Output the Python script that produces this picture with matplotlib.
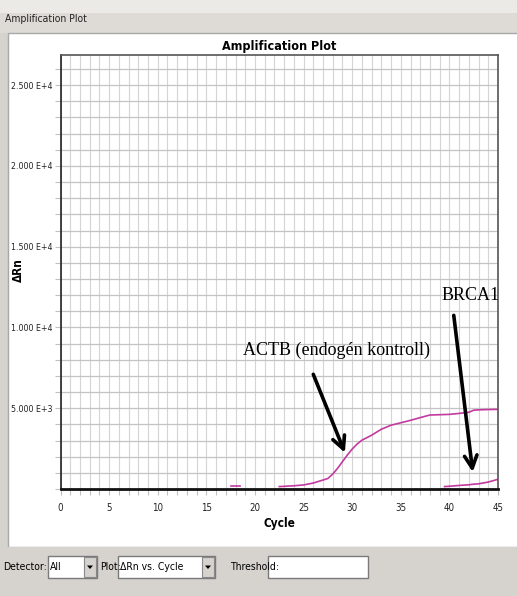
import matplotlib
matplotlib.use("Agg")
import matplotlib.pyplot as plt
from matplotlib import font_manager
from matplotlib.patches import Rectangle, Polygon
import numpy as np

# ---------------- data ----------------
actb_cycle = [22.5, 23, 24, 25, 26, 27, 27.5, 28, 28.5, 29, 29.5, 30, 30.5, 31, 32,
              33, 34, 35, 36, 37, 38, 39, 40, 41, 42, 42.5, 43, 44, 45]
actb_drn = [150, 165, 200, 250, 370, 555, 650, 925, 1280, 1690, 2100, 2470, 2780, 3020, 3330,
            3700, 3950, 4100, 4250, 4420, 4580, 4600, 4620, 4680, 4750, 4880, 4900, 4920, 4930]
brca1_cycle = [39.5, 40, 41, 42, 42.5, 43, 44, 45]
brca1_drn = [150, 170, 220, 260, 300, 320, 430, 600]
stub_cycle = [17.5, 18.5]
stub_drn = [180, 180]

ytick_vals = [5000, 10000, 15000, 20000, 25000]
ytick_labels = ["5.000 E+3", "1.000 E+4", "1.500 E+4", "2.000 E+4", "2.500 E+4"]
xtick_vals = [0, 5, 10, 15, 20, 25, 30, 35, 40, 45]

label_actb = "ACTB (endogén kontroll)"
label_brca1 = "BRCA1"

# ---------------- fonts ----------------
names = {f.name for f in font_manager.fontManager.ttflist}
cond = [f for f in font_manager.fontManager.ttflist
        if f.name == "DejaVu Sans" and f.stretch in ("condensed", "semi-condensed")]
if "Liberation Sans Narrow" in names:
    narrow = dict(family="Liberation Sans Narrow")
elif cond:
    narrow = dict(family="DejaVu Sans", stretch="condensed")
elif "Roboto Condensed" in names:
    narrow = dict(family="Roboto Condensed")
else:
    narrow = dict(family="DejaVu Sans", stretch="condensed")
serif = "Liberation Serif" if "Liberation Serif" in names else "DejaVu Serif"

W, H = 517, 596
fig = plt.figure(figsize=(W / 100, H / 100), dpi=100)
fig.patch.set_facecolor("#d6d3ce")

def px_rect(x0, y0, x1, y1, z=-5, **kw):
    r = Rectangle((x0 / W, 1 - y1 / H), (x1 - x0) / W, (y1 - y0) / H,
                  transform=fig.transFigure, zorder=z, **kw)
    fig.patches.append(r)
    return r

# window chrome
px_rect(0, 0, W, 13, facecolor="#eceae6", edgecolor="none")
px_rect(0, 13, W, 33, facecolor="#dedbd6", edgecolor="none")
fig.text(5 / W, 1 - 19 / H, "Amplification Plot", fontsize=7.5, va="center", ha="left",
         color="#222222", **narrow)
px_rect(8, 33, W + 2, 547, facecolor="white", edgecolor="#a8a8a8", linewidth=1)

# ---------------- axes ----------------
ax_l, ax_r, ax_t, ax_b = 60.5, 498, 54.5, 489
ax = fig.add_axes([ax_l / W, 1 - ax_b / H, (ax_r - ax_l) / W, (ax_b - ax_t) / H])
ax.set_zorder(2)
ax.set_facecolor("white")
ax.set_xlim(0, 45)
ax.set_ylim(0, 26900)

ax.set_xticks(np.arange(0, 46, 1), minor=True)
ax.set_xticks(xtick_vals)
ax.set_yticks(np.arange(0, 26900, 1000), minor=True)
ax.set_yticks(ytick_vals)
ax.set_xticklabels([str(v) for v in xtick_vals], fontsize=7, color="#222222", **narrow)
ax.set_yticklabels(ytick_labels, fontsize=6.3, color="#222222", **narrow)
ax.grid(which="both", axis="x", color="#d4d4d4", linewidth=0.8)
ax.grid(which="both", axis="y", color="#c4c4c4", linewidth=0.9)
ax.set_axisbelow(True)
ax.tick_params(which="both", direction="out", length=4, color="#c0c0c0", width=0.8)
ax.tick_params(axis="x", pad=6)
ax.tick_params(axis="y", pad=2)

for side in ["top", "right"]:
    ax.spines[side].set_color("#555555")
    ax.spines[side].set_linewidth(1.2)
ax.spines["left"].set_color("#222222")
ax.spines["left"].set_linewidth(1.2)
ax.spines["bottom"].set_color("#111111")
ax.spines["bottom"].set_linewidth(2.0)

curve_color = "#c23a9e"
ax.plot(actb_cycle, actb_drn, color=curve_color, lw=1.2)
ax.plot(brca1_cycle, brca1_drn, color=curve_color, lw=1.2)
ax.plot(stub_cycle, stub_drn, color=curve_color, lw=1.2)

ax.set_title("Amplification Plot", fontsize=9, fontweight="bold", pad=3, **narrow)
ax.set_xlabel("Cycle", fontsize=8.5, fontweight="bold", labelpad=3, **narrow)
fig.text(18 / W, 1 - 270 / H, "ΔRn", rotation=90, fontsize=8.5, fontweight="bold",
         va="center", ha="center", **narrow)

# annotations
ax.text(28.4, 8600, label_actb, fontsize=13, family=serif, ha="center", va="center")
ax.text(39.2, 12000, label_brca1, fontsize=13, family=serif, ha="left", va="center",
        clip_on=True)
arrow_kw = dict(arrowstyle="->,head_length=0.9,head_width=0.45", lw=2.6, color="black",
                shrinkA=0, shrinkB=0)
ax.annotate("", xy=(29.25, 2250), xytext=(26.0, 7100), arrowprops=arrow_kw)
ax.annotate("", xy=(42.4, 1050), xytext=(40.45, 10750), arrowprops=arrow_kw)

# ---------------- bottom toolbar ----------------
px_rect(8, 547, W, 592, facecolor="#d6d3ce", edgecolor="none", z=-4)

def field(x0, x1, y0, y1, text=None, dropdown=True):
    px_rect(x0, y0, x1, y1, z=-3, facecolor="white", edgecolor="#7a7a7a", linewidth=1)
    if text:
        fig.text((x0 + 2) / W, 1 - ((y0 + y1) / 2) / H, text, fontsize=7.5,
                 va="center", ha="left", **narrow)
    if dropdown:
        px_rect(x1 - 13, y0 + 1, x1 - 1, y1 - 1, z=-2, facecolor="#d6d3ce",
                edgecolor="#888888", linewidth=0.8)
        cx, cy = x1 - 7, (y0 + y1) / 2
        tri = Polygon([((cx - 3) / W, 1 - (cy - 1.5) / H), ((cx + 3) / W, 1 - (cy - 1.5) / H),
                       (cx / W, 1 - (cy + 2) / H)], closed=True, transform=fig.transFigure,
                      facecolor="black", edgecolor="none", zorder=-1)
        fig.patches.append(tri)

fy0, fy1 = 556, 578
fig.text(3 / W, 1 - 567 / H, "Detector:", fontsize=7.5, va="center", ha="left", **narrow)
field(48, 97, fy0, fy1, "All")
fig.text(100 / W, 1 - 567 / H, "Plot:", fontsize=7.5, va="center", ha="left", **narrow)
field(118, 215, fy0, fy1, "ΔRn vs. Cycle")
fig.text(230 / W, 1 - 567 / H, "Threshold:", fontsize=7.5, va="center", ha="left", **narrow)
field(268, 368, fy0, fy1, None, dropdown=False)

fig.savefig("out.png", dpi=100, facecolor=fig.get_facecolor())
